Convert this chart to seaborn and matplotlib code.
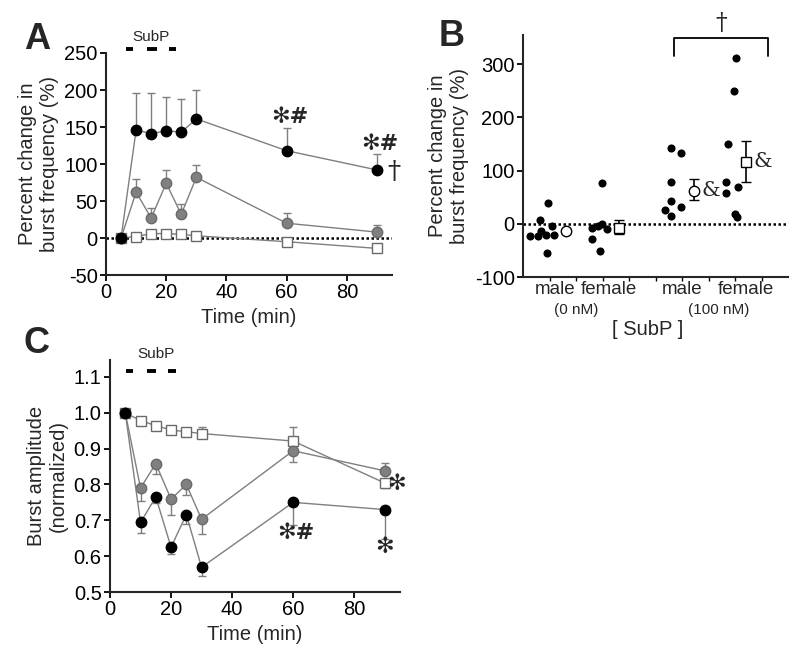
import numpy as np
import pandas as pd
import matplotlib
matplotlib.use("Agg")
import matplotlib.pyplot as plt
import seaborn as sns

# ---- panel A: percent change in burst frequency ----
time = [5, 10, 15, 20, 25, 30, 60, 90]
a_black = [0, 146, 141, 145, 143, 161, 118, 92]
a_black_hi = [0, 50, 55, 45, 45, 39, 30, 22]
a_gray = [0, 62, 27, 74, 32, 82, 20, 8]
a_gray_hi = [0, 18, 13, 18, 14, 17, 14, 9]
a_white = [0, 2, 6, 6, 5, 3, -5, -14]
a_white_hi = [0, 2, 2, 2, 2, 2, 2, 2]

# ---- panel C: burst amplitude (normalized) ----
c_white = [1.0, 0.978, 0.964, 0.952, 0.947, 0.942, 0.921, 0.804]
c_white_lo = [0, 0, 0, 0, 0, 0, 0, 0.015]
c_white_hi = [0, 0.005, 0.005, 0.006, 0.006, 0.019, 0.038, 0]
c_gray = [1.0, 0.79, 0.858, 0.759, 0.80, 0.703, 0.894, 0.838]
c_gray_lo = [0, 0.036, 0.028, 0.043, 0.03, 0.042, 0.032, 0]
c_gray_hi = [0, 0, 0, 0, 0, 0, 0, 0.022]
c_black = [1.0, 0.694, 0.765, 0.625, 0.716, 0.569, 0.75, 0.73]
c_black_lo = [0, 0.029, 0.018, 0.02, 0.026, 0.024, 0.064, 0.081]

# ---- panel B: individual responses and means ----
b_x1 = [0.25, 0.57, 0.63, 0.69, 0.85, 0.91, 0.94, 1.07, 1.16]
b_y1 = [-23, -23, 7, -13, -21, -55, 39, -5, -21]
b_x2 = [2.58, 2.58, 2.81, 2.89, 2.96, 2.96, 3.15]
b_y2 = [-8, -29, -5, -52, 77, 0, -10]
b_x3 = [5.37, 5.57, 5.57, 5.57, 5.57, 5.95, 5.95]
b_y3 = [26, 15, 42, 78, 143, 134, 31]
b_x4 = [7.65, 7.65, 7.74, 7.95, 8.01, 8.05, 8.08, 8.11]
b_y4 = [78, 58, 150, 249, 18, 311, 13, 70]
mean_x = [1.61, 3.62, 6.45, 8.43]
mean_y = [-14, -7, 62, 117]
mean_lo = [4, 13, 18, 39]
mean_hi = [4, 14, 22, 38]
mean_marker = ['o', 's', 'o', 's']
cat_x = [1.2, 3.25, 6.0, 8.4]
cat_labels = ['male', 'female', 'male', 'female']

sns.set_style("ticks")
plt.rcParams['font.family'] = ['Liberation Sans', 'DejaVu Sans']
plt.rcParams['axes.unicode_minus'] = False
plt.rcParams['axes.linewidth'] = 1.5
plt.rcParams['xtick.major.width'] = 1.3
plt.rcParams['ytick.major.width'] = 1.3
plt.rcParams['xtick.major.size'] = 4
plt.rcParams['ytick.major.size'] = 4

LINE = '#7f7f7f'
GRAY = '#808080'
GRAY_EDGE = '#6a6a6a'
MS = 7.5
FS = 14.5

fig = plt.figure(figsize=(8, 6.6), dpi=100)
axA = fig.add_axes([0.1325, 0.5833, 0.3575, 0.3364])
axB = fig.add_axes([0.654, 0.5803, 0.331, 0.3667])
axC = fig.add_axes([0.1375, 0.103, 0.3625, 0.3515])


def series(ax, y, lo, hi, marker, face, edge):
    lo = np.array(lo)
    hi = np.array(hi)
    ax.errorbar(time, y, yerr=[lo, hi], fmt='none', ecolor=LINE, elinewidth=1,
                capsize=3, capthick=1, zorder=2)
    sns.lineplot(x=time, y=y, ax=ax, color=LINE, lw=1, marker=marker, ms=MS,
                 mfc=face, mec=edge, mew=1, zorder=3)


def subp_bar(ax, ytxt, ybar, xs):
    ax.text(15, ytxt, 'SubP', ha='center', va='bottom', fontsize=11, clip_on=False)
    for x0, x1 in xs:
        ax.plot([x0, x1], [ybar, ybar], color='black', lw=2.8, clip_on=False,
                solid_capstyle='butt')


def mark(ax, x, y, s, ha='center', va='center', clip=True):
    ax.text(x, y, s, ha=ha, va=va, fontsize=16, fontweight='bold',
            family=['DejaVu Sans'], clip_on=clip)


# ---------- A ----------
axA.axhline(0, color='black', ls=(0, (1, 1)), lw=1.8, zorder=1)
series(axA, a_white, np.zeros(8), a_white_hi, 's', 'white', GRAY_EDGE)
series(axA, a_gray, np.zeros(8), a_gray_hi, 'o', GRAY, GRAY_EDGE)
series(axA, a_black, np.zeros(8), a_black_hi, 'o', 'black', 'black')
axA.set_xlim(0, 95)
axA.set_ylim(-50, 250)
axA.set_xticks([0, 20, 40, 60, 80])
axA.set_yticks([-50, 0, 50, 100, 150, 200, 250])
axA.set_xlabel('Time (min)', fontsize=FS, labelpad=4)
axA.set_ylabel('Percent change in\nburst frequency (%)', fontsize=FS, labelpad=4)
mark(axA, 61, 163, '✻#')
mark(axA, 91, 127, '✻#', clip=False)
axA.text(93.5, 90, '†', ha='left', va='center', fontsize=19, family=['DejaVu Serif'],
         clip_on=False)
subp_bar(axA, 262, 256, [(6.7, 9.1), (13.6, 16.9), (20.8, 23.2)])

# ---------- C ----------
series(axC, c_white, c_white_lo, c_white_hi, 's', 'white', GRAY_EDGE)
series(axC, c_gray, c_gray_lo, c_gray_hi, 'o', GRAY, GRAY_EDGE)
series(axC, c_black, c_black_lo, np.zeros(8), 'o', 'black', 'black')
axC.set_xlim(0, 95)
axC.set_ylim(0.5, 1.147)
axC.set_xticks([0, 20, 40, 60, 80])
axC.set_yticks([0.5, 0.6, 0.7, 0.8, 0.9, 1.0, 1.1])
axC.yaxis.set_major_formatter(matplotlib.ticker.FormatStrFormatter('%.1f'))
axC.set_xlabel('Time (min)', fontsize=FS, labelpad=4)
axC.set_ylabel('Burst amplitude\n(normalized)', fontsize=FS, labelpad=4)
mark(axC, 94, 0.8, '✻', clip=False)
mark(axC, 61, 0.665, '✻#')
mark(axC, 90, 0.626, '✻')
subp_bar(axC, 1.145, 1.116, [(5.2, 7.6), (12.0, 15.2), (19.0, 21.7)])

# ---------- B ----------
dots = pd.DataFrame({'x': b_x1 + b_x2 + b_x3 + b_x4, 'y': b_y1 + b_y2 + b_y3 + b_y4})
axB.axhline(0, color='black', ls=(0, (1, 1)), lw=1.8, zorder=1)
sns.scatterplot(data=dots, x='x', y='y', ax=axB, color='black', s=34,
                edgecolor='black', linewidth=0, zorder=3)
for xm, ym, lo, hi, mk in zip(mean_x, mean_y, mean_lo, mean_hi, mean_marker):
    axB.errorbar([xm], [ym], yerr=[[lo], [hi]], fmt=mk, ms=MS, mfc='white',
                 mec='black', mew=1, ecolor='black', elinewidth=1.2, capsize=3.5,
                 capthick=1.2, zorder=4)
axB.text(mean_x[2] + 0.28, mean_y[2], '&', ha='left', va='center', fontsize=15,
         family=['DejaVu Serif'])
axB.text(mean_x[3] + 0.28, mean_y[3], '&', ha='left', va='center', fontsize=15,
         family=['DejaVu Serif'])
axB.plot([5.69, 5.69, 9.23, 9.23], [315, 349, 349, 315], color='black', lw=1.3,
         clip_on=False)
axB.text(7.49, 355, '†', ha='center', va='bottom', fontsize=17,
         family=['DejaVu Serif'], clip_on=False)
axB.set_xlim(0, 10)
axB.set_ylim(-100, 355)
axB.set_yticks([-100, 0, 100, 200, 300])
axB.set_xticks(range(1, 10))
axB.set_xticklabels([])
axB.tick_params(axis='x', length=3, width=1)
axB.set_xlabel('')
axB.set_ylabel('Percent change in\nburst frequency (%)', fontsize=FS, labelpad=4)
tr = axB.get_xaxis_transform()
for xc, lab in zip(cat_x, cat_labels):
    axB.text(xc, -0.05, lab, transform=tr, ha='center', va='center', fontsize=13.5)
axB.text(2.0, -0.138, '(0 nM)', transform=tr, ha='center', va='center', fontsize=11)
axB.text(7.4, -0.138, '(100 nM)', transform=tr, ha='center', va='center', fontsize=11)
axB.text(4.7, -0.215, '[ SubP ]', transform=tr, ha='center', va='center', fontsize=FS)

for ax in (axA, axB, axC):
    sns.despine(ax=ax)
    ax.tick_params(labelsize=FS, colors='black', pad=2)

fig.text(0.046, 0.94, 'A', fontsize=26, fontweight='bold', ha='center', va='center')
fig.text(0.565, 0.945, 'B', fontsize=26, fontweight='bold', ha='center', va='center')
fig.text(0.046, 0.48, 'C', fontsize=26, fontweight='bold', ha='center', va='center')

fig.savefig('out.png', dpi=100)
